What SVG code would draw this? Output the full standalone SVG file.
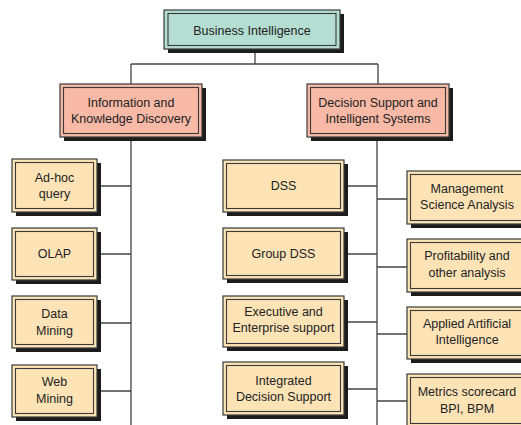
<svg xmlns="http://www.w3.org/2000/svg" width="521" height="425" viewBox="0 0 521 425">
<style>
  .bg{fill:#ffffff}
  .sh{fill:#1c1c1c}
  .box{stroke:#3a3a3a;stroke-width:1.2}
  .inner{fill:none;stroke:#3a3a3a;stroke-width:1.1}
  .teal{fill:#b3ded1}
  .salmon{fill:#f8b9a6}
  .tan{fill:#fde3b6}
  .t{font-family:"Liberation Sans",Arial,sans-serif;font-size:12.5px;fill:#222;text-anchor:middle}
  .c{fill:none;stroke:#444;stroke-width:1.3}
</style>
<rect class="bg" x="0" y="0" width="521" height="425"/>

<g id="connectors">
  <path class="c" d="M255,53 V64 M131,64 H378 M131,64 V84 M378,64 V84"/>
  <path class="c" d="M131,141 V425 M377,141 V425"/>
  <path class="c" d="M97,186 H131 M97,254 H131 M97,323 H131 M97,391 H131"/>
  <path class="c" d="M344,186 H377 M344,254 H377 M344,322 H377 M344,389 H377"/>
  <path class="c" d="M377,199 H407 M377,267 H407 M377,334 H407 M377,401 H407"/>
</g>

<g id="n-bi">
  <rect class="sh" x="168" y="14" width="176" height="39"/>
  <rect class="box teal" x="164" y="10" width="176" height="39"/>
  <rect class="inner" x="168" y="13.5" width="168" height="32"/>
  <text class="t" x="252" y="34.5">Business Intelligence</text>
</g>

<g id="n-ikd">
  <rect class="sh" x="64" y="88" width="142" height="53"/>
  <rect class="box salmon" x="60" y="84" width="142" height="53"/>
  <rect class="inner" x="63.5" y="87.5" width="135" height="46"/>
  <text class="t" x="131" y="106.5">Information and</text>
  <text class="t" x="131" y="123">Knowledge Discovery</text>
</g>

<g id="n-dsis">
  <rect class="sh" x="311" y="88" width="142" height="53"/>
  <rect class="box salmon" x="307" y="84" width="142" height="53"/>
  <rect class="inner" x="310.5" y="87.5" width="135" height="46"/>
  <text class="t" x="378" y="106.5">Decision Support and</text>
  <text class="t" x="378" y="123">Intelligent Systems</text>
</g>

<g id="n-adhoc">
  <rect class="sh" x="16" y="163" width="85" height="53"/>
  <rect class="box tan" x="12" y="159" width="85" height="53"/>
  <rect class="inner" x="15.5" y="162.5" width="78" height="46"/>
  <text class="t" x="54.5" y="182">Ad-hoc</text>
  <text class="t" x="54.5" y="198">query</text>
</g>

<g id="n-olap">
  <rect class="sh" x="16" y="232" width="85" height="52"/>
  <rect class="box tan" x="12" y="228" width="85" height="52"/>
  <rect class="inner" x="15.5" y="231.5" width="78" height="45"/>
  <text class="t" x="54.5" y="258">OLAP</text>
</g>

<g id="n-dm">
  <rect class="sh" x="16" y="300" width="85" height="52"/>
  <rect class="box tan" x="12" y="296" width="85" height="52"/>
  <rect class="inner" x="15.5" y="299.5" width="78" height="45"/>
  <text class="t" x="54.5" y="318">Data</text>
  <text class="t" x="54.5" y="334.5">Mining</text>
</g>

<g id="n-wm">
  <rect class="sh" x="16" y="369" width="85" height="52"/>
  <rect class="box tan" x="12" y="365" width="85" height="52"/>
  <rect class="inner" x="15.5" y="368.5" width="78" height="45"/>
  <text class="t" x="54.5" y="386">Web</text>
  <text class="t" x="54.5" y="402.5">Mining</text>
</g>

<g id="n-dss">
  <rect class="sh" x="227" y="164" width="121" height="52"/>
  <rect class="box tan" x="223" y="160" width="121" height="52"/>
  <rect class="inner" x="226.5" y="163.5" width="114" height="45"/>
  <text class="t" x="283.5" y="190">DSS</text>
</g>

<g id="n-gdss">
  <rect class="sh" x="227" y="232" width="121" height="51"/>
  <rect class="box tan" x="223" y="228" width="121" height="51"/>
  <rect class="inner" x="226.5" y="231.5" width="114" height="44"/>
  <text class="t" x="283.5" y="257.5">Group DSS</text>
</g>

<g id="n-ees">
  <rect class="sh" x="227" y="300" width="121" height="51"/>
  <rect class="box tan" x="223" y="296" width="121" height="51"/>
  <rect class="inner" x="226.5" y="299.5" width="114" height="44"/>
  <text class="t" x="283.5" y="315.5">Executive and</text>
  <text class="t" x="283.5" y="332">Enterprise support</text>
</g>

<g id="n-ids">
  <rect class="sh" x="227" y="366" width="121" height="53"/>
  <rect class="box tan" x="223" y="362" width="121" height="53"/>
  <rect class="inner" x="226.5" y="365.5" width="114" height="46"/>
  <text class="t" x="283.5" y="384.5">Integrated</text>
  <text class="t" x="283.5" y="401">Decision Support</text>
</g>

<g id="n-msa">
  <rect class="sh" x="411" y="175" width="121" height="53"/>
  <rect class="box tan" x="407" y="171" width="121" height="53"/>
  <rect class="inner" x="410.5" y="174.5" width="114" height="46"/>
  <text class="t" x="467" y="192.5">Management</text>
  <text class="t" x="467" y="209">Science Analysis</text>
</g>

<g id="n-poa">
  <rect class="sh" x="411" y="243" width="121" height="53"/>
  <rect class="box tan" x="407" y="239" width="121" height="53"/>
  <rect class="inner" x="410.5" y="242.5" width="114" height="46"/>
  <text class="t" x="467" y="260">Profitability and</text>
  <text class="t" x="467" y="276.5">other analysis</text>
</g>

<g id="n-aai">
  <rect class="sh" x="411" y="311" width="121" height="52"/>
  <rect class="box tan" x="407" y="307" width="121" height="52"/>
  <rect class="inner" x="410.5" y="310.5" width="114" height="45"/>
  <text class="t" x="467" y="327.5">Applied Artificial</text>
  <text class="t" x="467" y="344">Intelligence</text>
</g>

<g id="n-msc">
  <rect class="sh" x="411" y="378" width="121" height="53"/>
  <rect class="box tan" x="407" y="374" width="121" height="53"/>
  <rect class="inner" x="410.5" y="377.5" width="114" height="46"/>
  <text class="t" x="467" y="396">Metrics scorecard</text>
  <text class="t" x="467" y="412.5">BPI, BPM</text>
</g>
</svg>
